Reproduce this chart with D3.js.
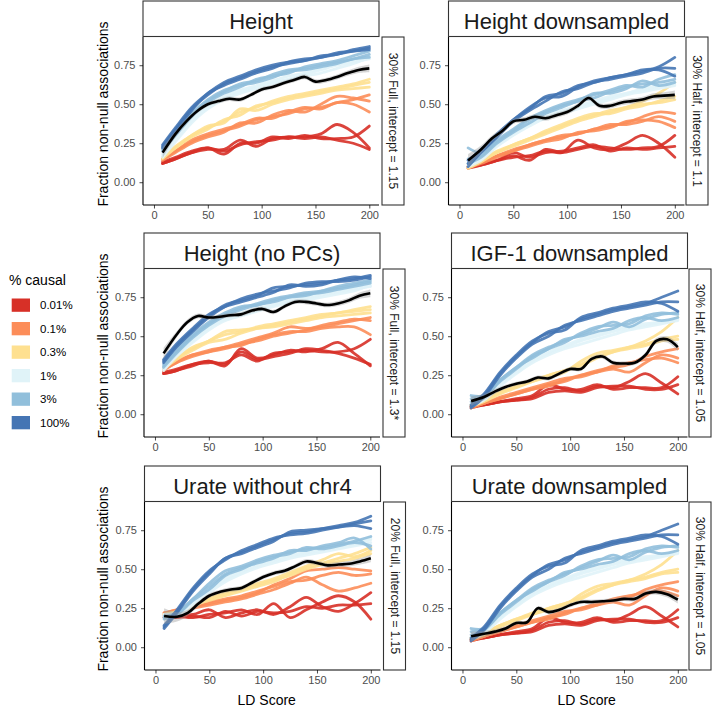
<!DOCTYPE html>
<html><head><meta charset="utf-8">
<script src="https://cdn.jsdelivr.net/npm/d3@7"></script>
<style>body{margin:0;background:#fff} text{font-family:"Liberation Sans",Arial,Helvetica,sans-serif}</style>
</head><body><svg id="c" width="714" height="714"></svg>
<script>
// ---------- data ----------
const ldX = [8,20,35,50,65,80,95,110,125,140,155,170,185,200];
const blackX = [8,20,30,40,50,60,70,80,90,100,110,120,130,140,150,160,170,180,190,200];
const causalLabels = ["0.01%","0.1%","0.3%","1%","3%","100%"];
const causalColors = ["#d73027","#fc8d59","#fee090","#e0f3f8","#91bfdb","#4575b4"];
const yTicks = [0, 0.25, 0.5, 0.75];
const xTicks = [0, 50, 100, 150, 200];
const panelTitles = ["Height","Height downsampled","Height (no PCs)","IGF-1 downsampled","Urate without chr4","Urate downsampled"];
const stripLabels = ["30% Full, intercept = 1.15","30% Half, intercept = 1.1","30% Full, intercept = 1.3*","30% Half, intercept = 1.05","20% Full, intercept = 1.15","30% Half, intercept = 1.05"];

// lines per % causal group (0.01%, 0.1%, 0.3%, 1%, 3%, 100%), 3 replicates each, at ldX
const heightLines = [
 [[.12,.15,.19,.21,.21,.27,.23,.28,.29,.29,.31,.37,.32,.22],[.13,.16,.20,.22,.18,.25,.25,.29,.28,.30,.28,.28,.29,.36],[.12,.15,.19,.22,.20,.24,.26,.27,.29,.28,.29,.27,.25,.21]],
 [[.15,.20,.26,.30,.33,.36,.40,.42,.44,.47,.48,.51,.53,.56],[.14,.19,.25,.29,.32,.38,.38,.43,.46,.45,.50,.55,.54,.52],[.15,.20,.27,.31,.34,.37,.41,.41,.45,.48,.47,.51,.50,.45]],
 [[.16,.23,.30,.35,.39,.45,.48,.52,.55,.57,.59,.61,.63,.66],[.15,.22,.29,.34,.40,.43,.49,.51,.54,.56,.58,.60,.62,.64],[.16,.22,.30,.36,.38,.47,.46,.50,.53,.55,.57,.59,.60,.61]],
 [[.17,.27,.39,.48,.54,.58,.61,.64,.66,.69,.72,.75,.77,.79],[.16,.26,.38,.47,.53,.57,.60,.63,.66,.68,.70,.73,.76,.80],[.18,.28,.40,.49,.55,.59,.62,.65,.68,.70,.73,.76,.78,.81]],
 [[.21,.31,.43,.52,.58,.63,.65,.69,.72,.73,.75,.77,.79,.82],[.20,.30,.42,.51,.57,.61,.66,.68,.70,.74,.76,.78,.81,.84],[.22,.31,.44,.53,.59,.62,.64,.67,.71,.72,.74,.76,.79,.80]],
 [[.23,.34,.47,.56,.63,.67,.71,.74,.76,.78,.80,.82,.84,.86],[.22,.33,.46,.57,.62,.66,.70,.73,.77,.79,.80,.83,.84,.85],[.24,.35,.48,.57,.64,.68,.72,.75,.77,.78,.81,.82,.85,.87]]
];
const heightDsLines = [
 [[.10,.12,.14,.16,.17,.20,.19,.27,.22,.21,.25,.30,.25,.16],[.10,.11,.14,.17,.14,.21,.19,.21,.23,.22,.21,.22,.23,.30],[.09,.11,.14,.19,.16,.19,.20,.22,.24,.20,.22,.21,.22,.23]],
 [[.10,.13,.17,.21,.24,.27,.29,.31,.34,.36,.38,.42,.45,.44],[.09,.12,.16,.20,.23,.26,.28,.32,.33,.35,.39,.40,.39,.35],[.10,.13,.17,.20,.24,.27,.30,.31,.34,.37,.37,.39,.42,.39]],
 [[.10,.14,.20,.24,.28,.32,.36,.40,.43,.46,.48,.52,.57,.64],[.09,.13,.19,.23,.27,.31,.35,.39,.42,.45,.48,.50,.51,.53],[.10,.14,.19,.24,.28,.33,.37,.41,.44,.44,.47,.49,.52,.55]],
 [[.12,.15,.24,.31,.37,.42,.45,.48,.51,.54,.57,.59,.61,.63],[.10,.14,.23,.30,.36,.41,.44,.47,.50,.53,.56,.58,.60,.62],[.11,.15,.24,.32,.37,.42,.46,.49,.52,.55,.57,.60,.62,.64]],
 [[.22,.19,.27,.34,.41,.46,.50,.53,.56,.59,.62,.61,.66,.69],[.15,.17,.26,.33,.40,.45,.49,.52,.57,.57,.60,.65,.62,.64],[.12,.16,.25,.32,.38,.44,.48,.52,.54,.58,.61,.63,.64,.66]],
 [[.12,.20,.30,.40,.47,.55,.57,.62,.64,.67,.69,.71,.74,.80],[.10,.19,.29,.39,.46,.52,.58,.60,.64,.66,.68,.70,.73,.73],[.14,.21,.31,.40,.48,.54,.55,.61,.65,.67,.69,.72,.72,.68]]
];
const heightNoPCLines = [
 [[.26,.28,.32,.34,.31,.42,.36,.38,.41,.40,.42,.46,.39,.31],[.27,.29,.32,.33,.33,.38,.34,.39,.40,.41,.40,.40,.42,.48],[.26,.28,.31,.34,.32,.40,.35,.37,.39,.42,.41,.39,.36,.32]],
 [[.29,.34,.38,.41,.43,.46,.49,.52,.56,.55,.56,.58,.60,.62],[.28,.33,.37,.40,.42,.45,.47,.50,.52,.54,.57,.59,.61,.60],[.29,.33,.38,.40,.43,.44,.48,.51,.53,.53,.55,.56,.56,.51]],
 [[.30,.36,.42,.47,.51,.53,.56,.58,.60,.62,.64,.65,.67,.69],[.29,.35,.41,.46,.48,.52,.55,.57,.59,.61,.63,.65,.66,.67],[.30,.36,.43,.47,.53,.54,.55,.56,.58,.60,.62,.63,.64,.65]],
 [[.29,.38,.47,.55,.61,.65,.67,.70,.72,.74,.76,.78,.80,.82],[.28,.37,.46,.54,.60,.63,.66,.69,.71,.73,.75,.77,.79,.83],[.30,.39,.48,.56,.61,.64,.68,.70,.73,.75,.77,.79,.81,.82]],
 [[.31,.40,.50,.58,.64,.68,.71,.74,.76,.78,.79,.81,.83,.85],[.30,.39,.49,.57,.63,.67,.70,.72,.75,.77,.78,.80,.82,.84],[.32,.41,.51,.59,.65,.69,.70,.73,.75,.76,.79,.82,.84,.86]],
 [[.34,.44,.54,.63,.70,.73,.76,.81,.82,.83,.84,.86,.87,.89],[.33,.43,.53,.62,.69,.74,.77,.79,.81,.84,.85,.85,.86,.88],[.35,.45,.55,.64,.69,.72,.75,.78,.83,.82,.83,.86,.88,.87]]
];
// same simulation (30% Half, intercept = 1.05) drawn under IGF-1 and Urate downsampled
const halfSimLines = [
 [[.05,.06,.08,.09,.11,.16,.17,.15,.18,.17,.21,.26,.20,.13],[.05,.06,.08,.10,.12,.19,.16,.16,.19,.16,.17,.17,.17,.24],[.04,.06,.08,.09,.10,.14,.15,.14,.17,.18,.18,.16,.16,.19]],
 [[.05,.07,.10,.13,.16,.19,.21,.25,.28,.30,.32,.37,.40,.42],[.04,.07,.10,.13,.16,.18,.22,.25,.27,.29,.27,.33,.38,.36],[.05,.07,.11,.14,.17,.20,.23,.24,.27,.31,.33,.35,.36,.33]],
 [[.06,.09,.14,.18,.21,.24,.27,.34,.39,.41,.43,.45,.48,.50],[.05,.08,.13,.17,.21,.25,.28,.32,.37,.40,.42,.44,.47,.48],[.06,.09,.14,.18,.22,.25,.28,.31,.36,.40,.43,.47,.53,.62]],
 [[.06,.10,.19,.27,.34,.39,.43,.47,.50,.53,.55,.57,.59,.61],[.05,.09,.18,.26,.33,.38,.42,.45,.48,.51,.54,.56,.58,.60],[.07,.10,.20,.27,.35,.40,.44,.48,.51,.54,.56,.58,.59,.61]],
 [[.12,.12,.22,.30,.38,.43,.47,.51,.55,.59,.56,.61,.64,.65],[.08,.11,.21,.29,.37,.42,.48,.50,.53,.55,.60,.62,.60,.62],[.10,.12,.22,.30,.36,.42,.46,.52,.56,.57,.58,.63,.65,.64]],
 [[.05,.12,.26,.37,.46,.53,.56,.61,.64,.67,.69,.71,.75,.79],[.04,.11,.25,.36,.45,.50,.57,.60,.63,.66,.68,.70,.72,.72],[.06,.13,.27,.38,.47,.52,.54,.62,.65,.68,.70,.72,.71,.66]]
];
const urateNoChr4Lines = [
 [[.19,.20,.21,.24,.19,.22,.24,.21,.26,.32,.26,.23,.28,.35],[.20,.20,.19,.21,.22,.24,.21,.28,.19,.24,.29,.33,.29,.18],[.19,.19,.20,.19,.23,.20,.23,.22,.23,.26,.25,.27,.27,.28]],
 [[.22,.24,.26,.28,.30,.32,.35,.40,.44,.49,.50,.51,.50,.49],[.21,.23,.25,.27,.29,.31,.34,.37,.41,.45,.40,.36,.38,.41],[.22,.24,.26,.29,.31,.33,.36,.39,.42,.43,.46,.48,.46,.47]],
 [[.21,.23,.27,.32,.35,.38,.41,.44,.48,.52,.56,.60,.58,.62],[.20,.22,.26,.31,.34,.37,.40,.43,.46,.50,.53,.55,.57,.60],[.21,.23,.27,.30,.33,.36,.39,.42,.47,.51,.54,.57,.60,.64]],
 [[.20,.21,.28,.36,.43,.48,.52,.55,.58,.60,.62,.64,.66,.69],[.19,.20,.27,.35,.42,.47,.51,.54,.57,.59,.61,.63,.65,.67],[.21,.22,.29,.37,.44,.49,.53,.56,.59,.61,.63,.65,.67,.70]],
 [[.19,.22,.31,.41,.49,.52,.56,.59,.61,.63,.64,.66,.68,.71],[.18,.21,.30,.37,.46,.50,.55,.58,.60,.64,.63,.65,.67,.65],[.20,.22,.31,.39,.47,.51,.54,.57,.62,.62,.65,.67,.70,.63]],
 [[.13,.23,.37,.48,.57,.61,.65,.69,.73,.74,.76,.78,.80,.84],[.14,.24,.38,.49,.56,.62,.66,.70,.72,.73,.75,.77,.79,.81],[.12,.22,.36,.47,.57,.60,.64,.68,.74,.75,.76,.77,.78,.76]]
];

// observed trait (black line) at blackX, with standard error band
const heightBlack     = [.19,.31,.39,.455,.50,.52,.535,.53,.56,.595,.61,.635,.655,.675,.645,.655,.675,.70,.72,.73];
const heightDsBlack   = [.14,.21,.28,.33,.39,.40,.42,.41,.43,.45,.49,.54,.49,.49,.51,.52,.53,.55,.555,.56];
const heightNoPCBlack = [.39,.51,.59,.63,.62,.625,.635,.64,.665,.675,.655,.69,.72,.72,.71,.70,.71,.73,.76,.775];
const igfDsBlack      = [.084,.11,.145,.175,.195,.21,.235,.23,.26,.29,.29,.355,.37,.33,.325,.33,.38,.47,.48,.43];
const urateNoChr4Black= [.20,.195,.22,.28,.33,.355,.37,.38,.415,.45,.475,.49,.52,.55,.54,.525,.53,.535,.55,.57];
const urateDsBlack    = [.07,.086,.10,.12,.155,.16,.25,.225,.24,.27,.29,.29,.295,.30,.31,.31,.345,.355,.34,.305];
const heightSe     = [.035,.02,.017,.015,.014,.014,.014,.014,.014,.014,.014,.014,.014,.015,.015,.015,.016,.017,.02,.025];
const heightDsSe   = [.04,.025,.02,.017,.016,.016,.016,.016,.016,.016,.016,.016,.016,.017,.017,.018,.018,.02,.022,.028];
const heightNoPCSe = [.035,.02,.017,.015,.014,.014,.014,.014,.014,.014,.014,.014,.014,.015,.015,.015,.016,.017,.02,.025];
const igfDsSe      = [.03,.02,.016,.014,.013,.013,.013,.013,.013,.013,.013,.014,.014,.014,.014,.015,.016,.018,.02,.025];
const urateNoChr4Se= [.05,.03,.02,.017,.015,.014,.014,.014,.014,.014,.014,.014,.014,.015,.015,.015,.016,.017,.02,.025];
const urateDsSe    = [.03,.02,.016,.014,.013,.013,.013,.013,.013,.013,.013,.014,.014,.014,.014,.015,.016,.018,.02,.025];

// ---------- layout ----------
const panelLeft = [143, 448.5, 144, 451.5, 144.5, 451.5];
const rowTop = [1, 233, 466];
const PW = 236, STRIP_H = 35.5, PLOT_T = 36, PLOT_B = 204;

const panels = [
 {lines: heightLines,      black: heightBlack,      se: heightSe},
 {lines: heightDsLines,    black: heightDsBlack,    se: heightDsSe},
 {lines: heightNoPCLines,  black: heightNoPCBlack,  se: heightNoPCSe},
 {lines: halfSimLines,     black: igfDsBlack,       se: igfDsSe},
 {lines: urateNoChr4Lines, black: urateNoChr4Black, se: urateNoChr4Se},
 {lines: halfSimLines,     black: urateDsBlack,     se: urateDsSe}
];

const svg = d3.select("#c");

panels.forEach((p, i) => {
  const col = i % 2, row = Math.floor(i / 2);
  const L = panelLeft[i], T = rowTop[row];
  const x = d3.scaleLinear().domain([-10.2, 209]).range([L, L + PW]);
  const y = d3.scaleLinear().domain([-0.146, 0.931]).range([T + PLOT_B, T + PLOT_T]);
  const g = svg.append("g");
  const clipId = "clip" + i;
  svg.append("clipPath").attr("id", clipId).append("rect")
    .attr("x", L).attr("y", T + PLOT_T).attr("width", PW).attr("height", PLOT_B - PLOT_T);
  const pg = g.append("g").attr("clip-path", `url(#${clipId})`);

  const line = d3.line().x(d => x(d[0])).y(d => y(d[1])).curve(d3.curveCatmullRom.alpha(0.5));
  p.lines.forEach((grp, k) => {
    grp.forEach(rep => {
      pg.append("path").datum(ldX.map((xv, j) => [xv, rep[j]]))
        .attr("d", line).attr("fill", "none")
        .attr("stroke", causalColors[k]).attr("stroke-width", 2.8)
        .attr("stroke-opacity", 0.9).attr("stroke-linejoin", "round").attr("stroke-linecap", "round");
    });
  });
  const area = d3.area().x(d => x(d[0])).y0(d => y(d[1] - d[2])).y1(d => y(d[1] + d[2]))
    .curve(d3.curveCatmullRom.alpha(0.5));
  const bd = blackX.map((xv, j) => [xv, p.black[j], p.se[j]]);
  pg.append("path").datum(bd).attr("d", area).attr("fill", "#999999").attr("fill-opacity", 0.4);
  pg.append("path").datum(bd).attr("d", line).attr("fill", "none")
    .attr("stroke", "#000").attr("stroke-width", 2.6).attr("stroke-linejoin", "round");

  // axes
  const yAxis = d3.axisLeft(y).tickValues(yTicks).tickFormat(d3.format(".2f")).tickSize(3.5).tickPadding(4);
  const ya = g.append("g").attr("transform", `translate(${L},0)`).call(yAxis);
  const xAxis = d3.axisBottom(x).tickValues(xTicks).tickSize(3.5).tickPadding(3);
  const xa = g.append("g").attr("transform", `translate(0,${T + PLOT_B})`).call(xAxis);
  [ya, xa].forEach(a => {
    a.select(".domain").remove();
    a.selectAll(".tick line").attr("stroke", "#333").attr("stroke-width", 0.9);
    a.selectAll(".tick text").attr("fill", "#4d4d4d").style("font-size", "11px")
      .style("font-family", '"Liberation Sans",Arial,sans-serif');
  });
  g.append("line").attr("x1", L).attr("x2", L).attr("y1", T + PLOT_T).attr("y2", T + PLOT_B)
    .attr("stroke", "#000").attr("stroke-width", 1.1);
  g.append("line").attr("x1", L).attr("x2", L + PW).attr("y1", T + PLOT_B).attr("y2", T + PLOT_B)
    .attr("stroke", "#000").attr("stroke-width", 1.1);

  // top strip
  g.append("rect").attr("x", L).attr("y", T).attr("width", PW).attr("height", STRIP_H)
    .attr("fill", "#fff").attr("stroke", "#333").attr("stroke-width", 1.1);
  g.append("text").attr("x", L + PW / 2).attr("y", T + 28).attr("text-anchor", "middle")
    .attr("fill", "#1a1a1a").style("font-size", "22px").text(panelTitles[i]);

  // right strip
  const sx = L + PW + (col === 0 ? 3 : 1.5);
  g.append("rect").attr("x", sx).attr("y", T + PLOT_T).attr("width", 22).attr("height", PLOT_B - PLOT_T)
    .attr("fill", "#fff").attr("stroke", "#333").attr("stroke-width", 1.1);
  g.append("text").attr("transform", `translate(${sx + 11},${T + (PLOT_T + PLOT_B) / 2}) rotate(90)`)
    .attr("text-anchor", "middle").attr("dominant-baseline", "central")
    .attr("fill", "#1a1a1a").style("font-size", "12px").text(stripLabels[i]);

  if (col === 0) {
    g.append("text").attr("transform", `translate(${107.5},${T + 113}) rotate(-90)`)
      .attr("text-anchor", "middle").attr("fill", "#000").style("font-size", "14px")
      .text("Fraction non-null associations");
  }
  if (row === 2) {
    g.append("text").attr("x", col === 0 ? 266.7 : 586.7).attr("y", 705)
      .attr("text-anchor", "middle").attr("fill", "#000").style("font-size", "14px").text("LD Score");
  }
});

// legend
const lg = svg.append("g");
lg.append("text").attr("x", 9).attr("y", 285).attr("fill", "#000").style("font-size", "14px").text("% causal");
causalLabels.forEach((lab, k) => {
  const cy = 305 + k * 23.5;
  lg.append("rect").attr("x", 11.7).attr("y", cy - 6.5).attr("width", 18.3).attr("height", 13.3)
    .attr("fill", causalColors[k]);
  lg.append("text").attr("x", 40).attr("y", cy).attr("dominant-baseline", "central")
    .attr("fill", "#000").style("font-size", "11.5px").text(lab);
});
</script></body></html>
